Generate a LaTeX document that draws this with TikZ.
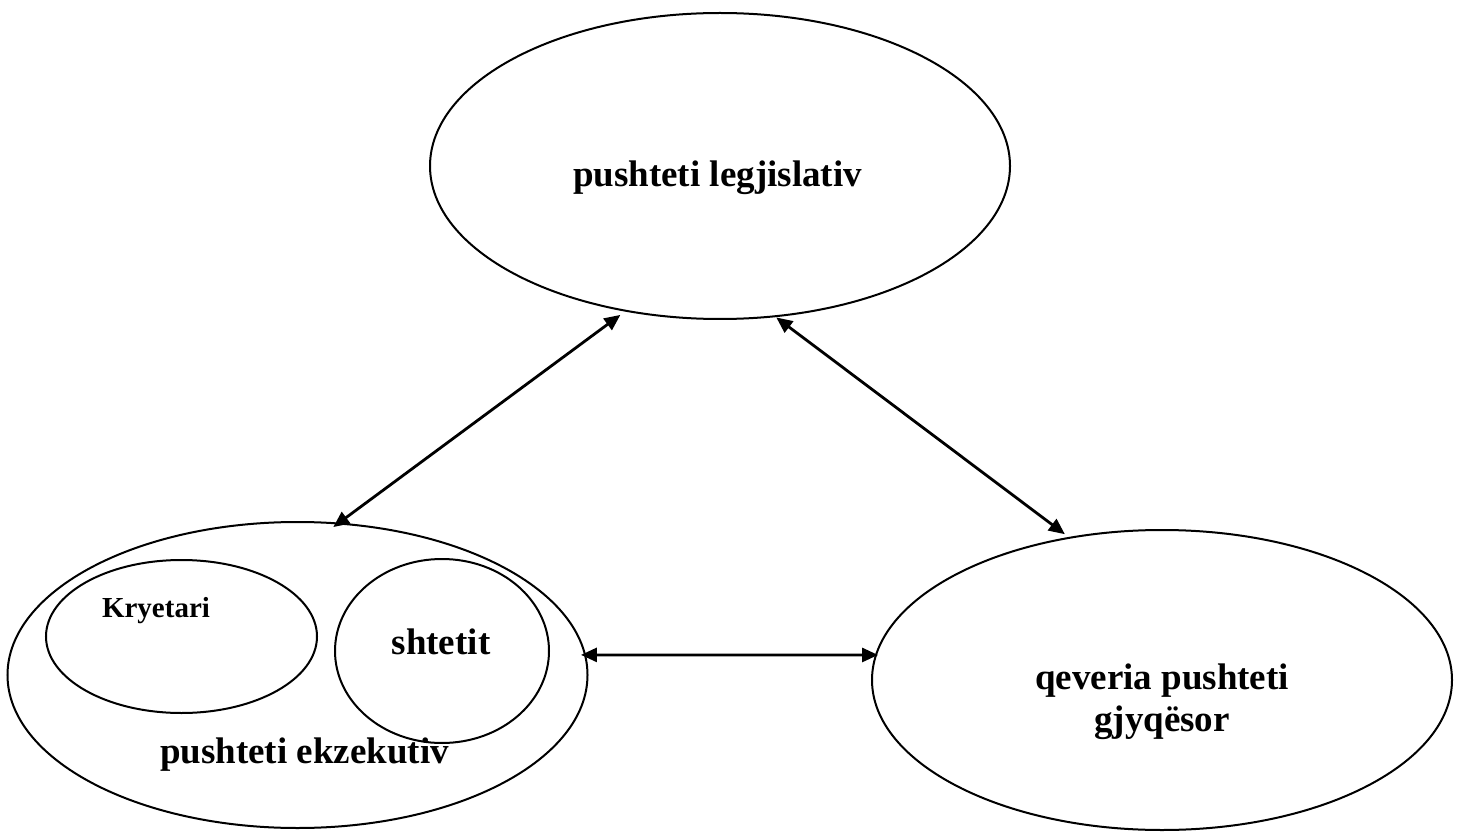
\documentclass[tikz,border=0pt]{standalone}
\usepackage{fontspec}
\setmainfont{Liberation Serif}
\usetikzlibrary{shapes.geometric,arrows.meta}
\tikzset{
  oval/.style={draw=black, line width=2pt, ellipse, inner sep=0pt, outer sep=0pt, fill=none},
  lbl/.style={anchor=base, inner sep=0pt, font=\fontsize{37}{42}\selectfont\bfseries, align=center},
  smalllbl/.style={anchor=base, inner sep=0pt, font=\fontsize{29}{34}\selectfont\bfseries},
  link/.style={line width=2.8pt, {Triangle[length=16pt,width=14pt]}-{Triangle[length=16pt,width=14pt]}}
}
\begin{document}
\begin{tikzpicture}[x=1pt,y=-1pt]
\useasboundingbox (0,0) rectangle (1459,834);
\fill[white] (0,0) rectangle (1459,834);
% ellipses
\node[oval, minimum width=580pt, minimum height=306pt] (leg) at (720,166) {};
\node[oval, minimum width=580pt, minimum height=306pt] (exe) at (297.5,675) {};
\node[oval, minimum width=271pt, minimum height=153pt] (kry) at (181.5,636.5) {};
\node[oval, minimum width=214pt, minimum height=184pt] (sht) at (442,651) {};
\node[oval, minimum width=580pt, minimum height=300pt] (jud) at (1162,680) {};
% labels
\node[lbl] (tleg) at (717.5,187) {pushteti legjislativ};
\node[smalllbl] (tkry) at (156,617) {Kryetari};
\node[lbl] (tsht) at (441,654) {shtetit};
\node[lbl] (texe) at (304.5,763) {pushteti ekzekutiv};
\node[lbl] (tjud1) at (1162,689) {qeveria pushteti};
\node[lbl] (tjud2) at (1162,731) {gjyqësor};
% connectors
\draw[link, shorten <=7pt, shorten >=-6pt] (leg.237.5) -- (exe.75.5);
\draw[link, shorten <=2pt, shorten >=6pt] (leg.290.8) -- (jud.123.4);
\draw[link, shorten <=-4pt, shorten >=-2pt] (exe.4.8) -- (jud.175);
\end{tikzpicture}
\end{document}
